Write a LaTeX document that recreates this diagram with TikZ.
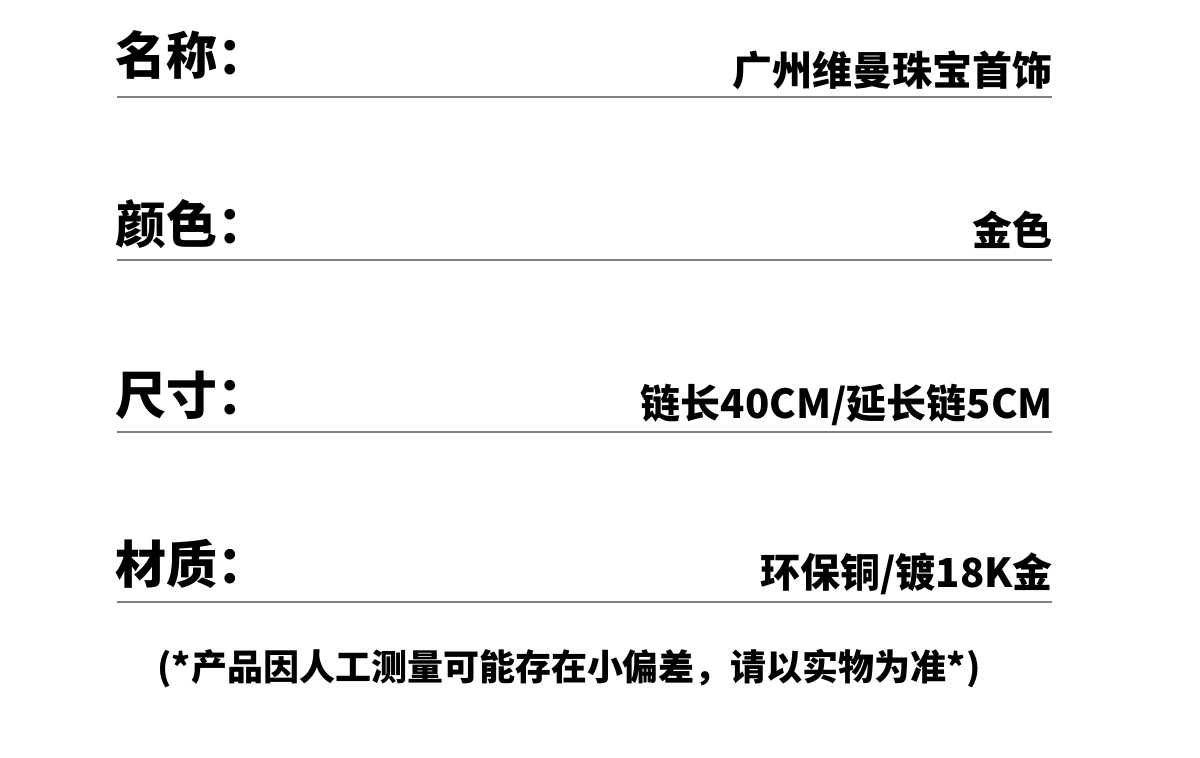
\documentclass[tikz,border=0pt]{standalone}
\usepackage{fontspec}
\newfontfamily\cjk{Noto Sans CJK SC}
\usetikzlibrary{positioning}

\begin{document}
\begin{tikzpicture}[x=1pt,y=-1pt,every node/.style={inner sep=0pt},
      lab/.style={anchor=base west,font=\cjk\bfseries\fontsize{51}{51}\selectfont},
      val/.style={anchor=base east,font=\cjk\bfseries\fontsize{40}{40}\selectfont},
      rule/.style={draw=black!50,line width=2pt}]
      \useasboundingbox(0,0)rectangle(1200,758);
      % rows: label, value, rule
      \node[lab](name)at(115,74){名称：};
      \node[val](nameval)at(1053,85){广州维曼珠宝首饰};
      \coordinate(r1a)at(117,96.5);\coordinate(r1b)at(1052,96.5);
      \draw[rule](r1a)--(r1b);
      \node[lab](color)at(115,243){颜色：};
      \node[val](colorval)at(1053,245){金色};
      \coordinate(r2a)at(117,260);\coordinate(r2b)at(1052,260);
      \draw[rule](r2a)--(r2b);
      \node[lab](size)at(115,414){尺寸：};
      \node[val](sizeval)at(1053,418){链长40CM/延长链5CM};
      \coordinate(r3a)at(117,431.5);\coordinate(r3b)at(1052,431.5);
      \draw[rule](r3a)--(r3b);
      \node[lab](mat)at(115,583){材质：};
      \node[val](matval)at(1053,587){环保铜/镀18K金};
      \coordinate(r4a)at(117,601.5);\coordinate(r4b)at(1052,601.5);
      \draw[rule](r4a)--(r4b);
      \node[anchor=base,font=\cjk\bfseries\fontsize{36}{36}\selectfont](note)at(569,680)
        {(*产品因人工测量可能存在小偏差，请以实物为准*)};
    \end{tikzpicture}
\end{document}
